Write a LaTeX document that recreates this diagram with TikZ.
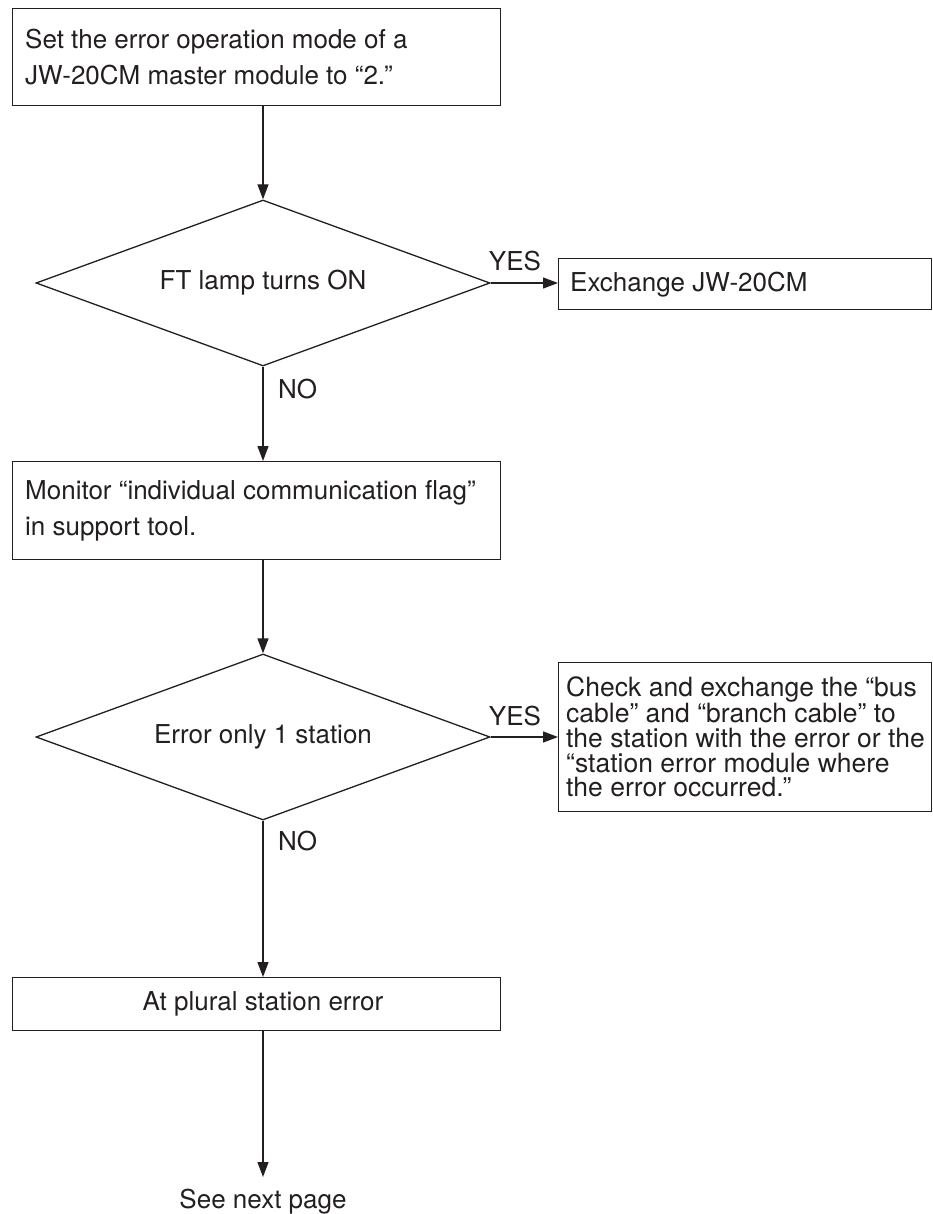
\documentclass[tikz,border=0pt]{standalone}
\usepackage{fontspec}
\setmainfont{TeX Gyre Heros}
\usetikzlibrary{shapes.geometric,arrows.meta}
\definecolor{ink}{HTML}{231F20}
\begin{document}
\begin{tikzpicture}[x=1pt,y=-1pt,
  font=\fontsize{26}{36.5}\selectfont,
  box/.style={draw=ink, line width=1.3pt, rectangle, inner sep=0pt, anchor=north west},
  diam/.style={draw=ink, line width=1.3pt, text=ink, diamond, aspect=2.735, minimum width=454pt, minimum height=166pt, inner sep=0pt},
  arr/.style={draw=ink, line width=1.3pt, -{Triangle[length=15pt,width=11pt]}},
  lab/.style={text=ink, inner sep=0pt},
  txt/.style={text=ink, inner sep=0pt, anchor=west, align=left}]
\useasboundingbox (0,0) rectangle (933,1214);

% boxes
\node[box, minimum width=488pt, minimum height=97pt] (b1) at (12,8) {};
\node[txt] (b1t) at ([xshift=13pt]b1.west) {Set the error operation mode of a\\JW-20CM master module to “2.”};

\node[diam] (d1) at (263,283) {FT lamp turns ON};

\node[box, minimum width=373pt, minimum height=51pt] (bx) at (558,258) {};
\node[txt] (bxt) at ([xshift=12pt]bx.west) {Exchange JW-20CM};

\node[box, minimum width=488pt, minimum height=98pt] (b2) at (12,461) {};
\node[txt] (b2t) at ([xshift=13pt]b2.west) {Monitor “individual communication flag”\\in support tool.};

\node[diam] (d2) at (263,737) {Error only 1 station};

\node[box, minimum width=373pt, minimum height=149pt] (b3) at (558,662) {};
\node[txt, font=\fontsize{26.5}{24.7}\selectfont] (b3t) at ([xshift=8pt]b3.west)
  {Check and exchange the “bus\\cable” and “branch cable” to\\the station with the error or the\\“station error module where\\the error occurred.”};

\node[box, minimum width=488pt, minimum height=53pt] (b4) at (12,977) {};
\node[lab] (b4t) at (b4.center -| d2) {At plural station error};

\coordinate (endc) at (263,1177);
\node[lab, anchor=base] (snp) at (263,1208) {See next page};

% labels
\node[lab, anchor=base] (yes1) at (515,271) {YES};
\node[lab, anchor=base west] (no1) at (278,398) {NO};
\node[lab, anchor=base] (yes2) at (515,725) {YES};
\node[lab, anchor=base west] (no2) at (278,850) {NO};

% connectors
\draw[arr] (b1.south -| d1.north) -- (d1.north);
\draw[arr] (d1.east) -- (d1.east -| bx.west);
\draw[arr] (d1.south) -- (d1.south |- b2.north);
\draw[arr] (b2.south -| d2.north) -- (d2.north);
\draw[arr] (d2.east) -- (d2.east -| b3.west);
\draw[arr] (d2.south) -- (d2.south |- b4.north);
\draw[arr] (b4.south -| endc) -- (endc);
\end{tikzpicture}
\end{document}
